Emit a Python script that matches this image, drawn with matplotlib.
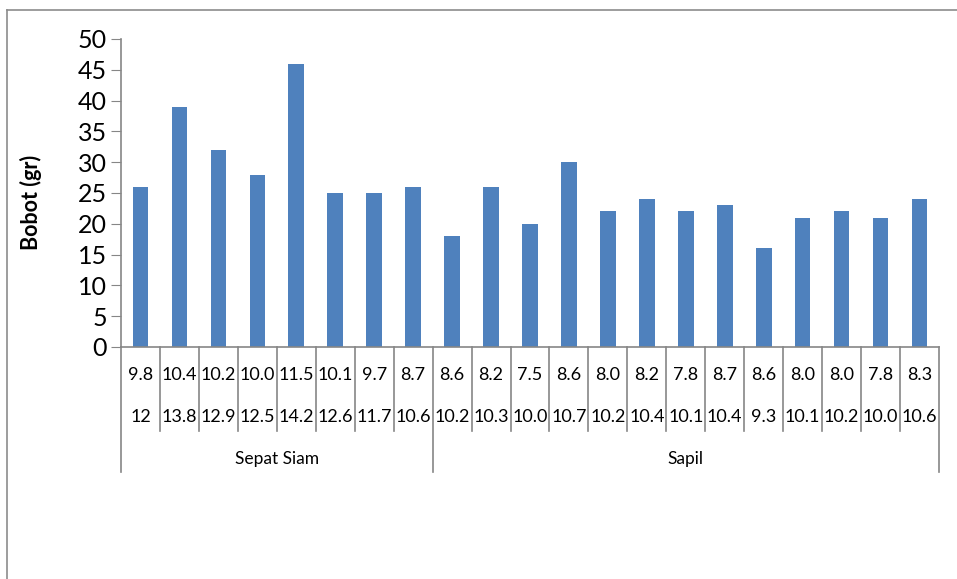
import matplotlib.pyplot as plt
from matplotlib.lines import Line2D
import numpy as np

# data
groups = ["Sepat Siam", "Sapil"]
group_sizes = [8, 13]
row1 = ["9.8", "10.4", "10.2", "10.0", "11.5", "10.1", "9.7", "8.7",
        "8.6", "8.2", "7.5", "8.6", "8.0", "8.2", "7.8", "8.7", "8.6", "8.0", "8.0", "7.8", "8.3"]
row2 = ["12", "13.8", "12.9", "12.5", "14.2", "12.6", "11.7", "10.6",
        "10.2", "10.3", "10.0", "10.7", "10.2", "10.4", "10.1", "10.4", "9.3", "10.1", "10.2", "10.0", "10.6"]
bobot = [26, 39, 32, 28, 46, 25, 25, 26,
         18, 26, 20, 30, 22, 24, 22, 23, 16, 21, 22, 21, 24]

plt.rcParams['font.family'] = ['Lato', 'DejaVu Sans']
grey = '#868686'

fig = plt.figure(figsize=(9.57, 5.79), dpi=100)
ax = fig.add_axes([121/957, 1 - 347/579, 818/957, 308/579])

x = np.arange(len(bobot))
ax.bar(x, bobot, width=0.4, color='#4F81BD')
ax.set_xlim(-0.5, len(bobot) - 0.5)
ax.set_ylim(0, 50)
ax.set_yticks(range(0, 51, 5))
ax.tick_params(axis='y', labelsize=18, direction='out', length=7, color=grey, pad=3)
ax.set_xticks([])
for s in ['top', 'right']:
    ax.spines[s].set_visible(False)
for s in ['left', 'bottom']:
    ax.spines[s].set_color(grey)
    ax.spines[s].set_linewidth(1.2)
ax.set_ylabel("Bobot (gr)", fontsize=15.5, fontweight='bold')
ax.yaxis.set_label_coords(-0.097, 0.47)

# multi-level category labels
tr = ax.get_xaxis_transform()
for i in range(len(bobot)):
    ax.text(i, -0.091, row1[i], transform=tr, ha='center', va='center', fontsize=13)
    ax.text(i, -0.227, row2[i], transform=tr, ha='center', va='center', fontsize=13)

edges = np.cumsum([0] + group_sizes) - 0.5
for i in range(len(bobot) + 1):
    xe = i - 0.5
    bottom = -0.406 if xe in edges else -0.273
    ax.plot([xe, xe], [0, bottom], transform=tr, color=grey, lw=1.2, clip_on=False)

for g, name in enumerate(groups):
    mid = (edges[g] + edges[g + 1]) / 2
    ax.text(mid, -0.364, name, transform=tr, ha='center', va='center', fontsize=12.5)

# chart frame (only top and left visible)
fig.add_artist(Line2D([7/957, 7/957], [0, 1 - 10/579], color='#8c8c8c', lw=1.2))
fig.add_artist(Line2D([7/957, 1], [1 - 10/579, 1 - 10/579], color='#8c8c8c', lw=1.2))

fig.savefig("out.png", dpi=100)
